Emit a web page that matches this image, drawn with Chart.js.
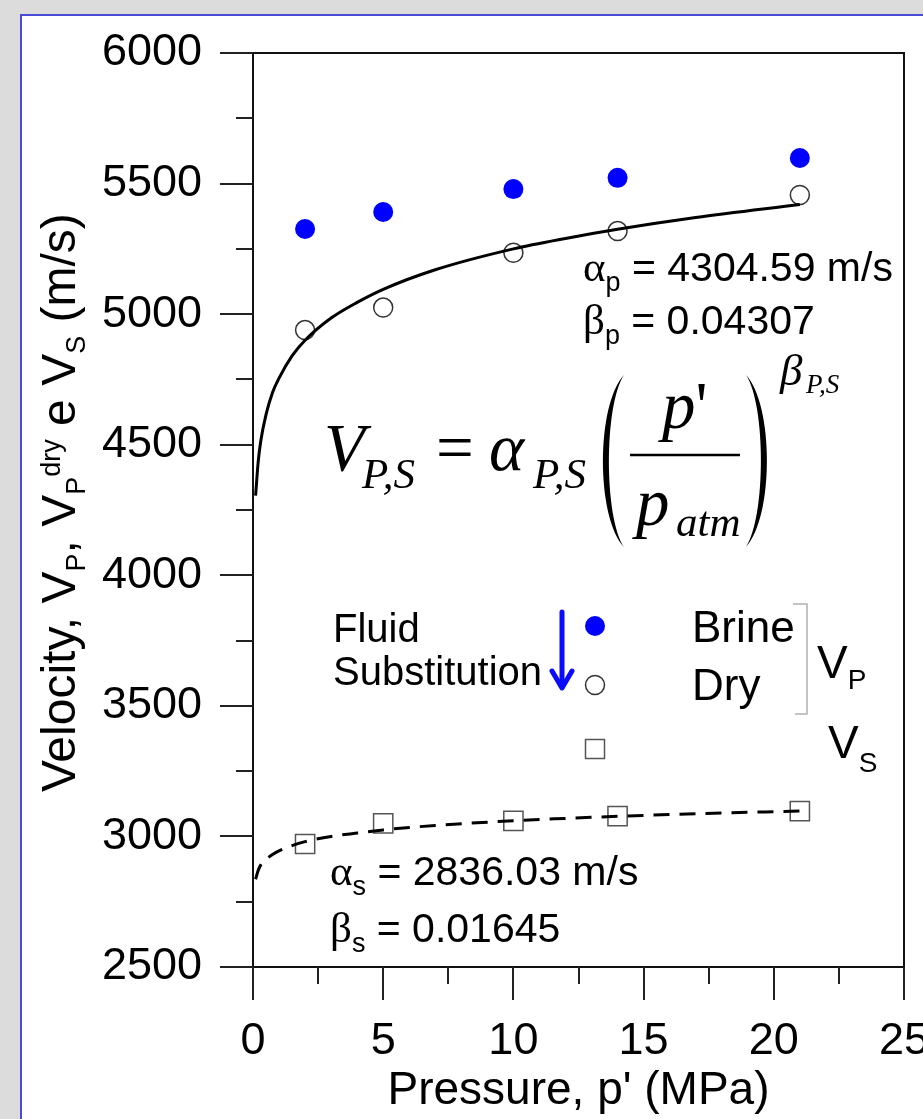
<!DOCTYPE html>
<html>
<head>
<meta charset="utf-8">
<title>Velocity vs pressure</title>
<script src="https://cdn.jsdelivr.net/npm/chart.js@4.4.1/dist/chart.umd.min.js"></script>
<style>
  html, body { margin: 0; padding: 0; overflow: hidden; background: #dcdcdc; }
  #panel { position: absolute; left: 20px; top: 14px; width: 1000px; height: 1200px; background: #fff; border: 2px solid #4b4bd6; }
  #wrap { position: absolute; left: 0; top: 0; width: 923px; height: 1119px; }
</style>
</head>
<body>
<div id="panel"></div>
<div id="wrap"><canvas id="myChart"></canvas></div>
<script>
// measured points (MPa, m/s)
const pressure = [2, 5, 10, 14, 21];
const vpBrine = [5326, 5391, 5479, 5522, 5598];
const vpDry = [4939, 5025, 5235, 5318, 5456];
const vsDry = [2971, 3050, 3060, 3078, 3097];

// fitted curves
const fitPressure = [0.1, 0.2, 0.3, 0.5, 0.75, 1, 1.5, 2, 3, 4, 5, 7, 10, 12, 14, 17, 21];
const vpFit = [4305, 4435, 4515, 4615, 4700, 4755, 4840, 4900, 4985, 5045, 5095, 5170, 5250, 5290, 5325, 5370, 5420];
const vsFit = [2836, 2870, 2891, 2912, 2931, 2945, 2965, 2980, 3000, 3013, 3025, 3042, 3060, 3069, 3077, 3087, 3097];

const xTicks = [0, 5, 10, 15, 20, 25];
const yTicks = [2500, 3000, 3500, 4000, 4500, 5000, 5500, 6000];

const SANS = "'Liberation Sans', Arial, sans-serif";
const SERIF = "'Liberation Serif', 'Times New Roman', serif";

Chart.defaults.font.family = SANS;
Chart.defaults.color = '#000';

function pts(xs, ys) {
  return xs.map((x, i) => ({x: x, y: ys[i]}));
}

// draw text pieces one after another (sub/superscripts)
function run(ctx, x, y, parts) {
  for (const p of parts) {
    ctx.font = p[1];
    ctx.fillText(p[0], x, y + (p[2] || 0));
    x += ctx.measureText(p[0]).width;
  }
  return x;
}

function seg(ctx, x1, y1, x2, y2) {
  ctx.beginPath();
  ctx.moveTo(x1, y1);
  ctx.lineTo(x2, y2);
  ctx.stroke();
}

const overlay = {
  id: 'overlay',
  afterDraw(chart) {
    const ctx = chart.ctx;
    const a = chart.chartArea;
    const xs = chart.scales.x, ys = chart.scales.y;
    ctx.save();

    // top and right frame
    ctx.strokeStyle = '#111';
    ctx.lineWidth = 2;
    ctx.beginPath();
    ctx.moveTo(a.left, a.top);
    ctx.lineTo(a.right, a.top);
    ctx.lineTo(a.right, a.bottom);
    ctx.stroke();

    // tick marks, long on labelled values
    ctx.strokeStyle = '#222';
    for (let v = ys.min; v <= ys.max; v += 250) {
      const py = Math.round(ys.getPixelForValue(v));
      const len = v % 500 === 0 ? 33 : 17;
      seg(ctx, a.left - len, py, a.left, py);
    }
    for (let v = xs.min; v <= xs.max; v += 2.5) {
      const px = Math.round(xs.getPixelForValue(v));
      const len = v % 5 === 0 ? 33 : 17;
      seg(ctx, px, a.bottom, px, a.bottom + len);
    }

    ctx.fillStyle = '#000';
    ctx.textBaseline = 'alphabetic';
    ctx.textAlign = 'left';

    // y axis title
    ctx.save();
    ctx.translate(75, 792);
    ctx.rotate(-Math.PI / 2);
    run(ctx, 0, 0, [
      ['Velocity, V', '48px ' + SANS],
      ['P', '27px ' + SANS, 10],
      [', V', '48px ' + SANS],
      ['P', '27px ' + SANS, 10],
      ['dry', '27px ' + SANS, -15],
      [' e V', '48px ' + SANS],
      ['S', '27px ' + SANS, 10],
      [' (m/s)', '48px ' + SANS]
    ]);
    ctx.restore();

    // fit parameters
    run(ctx, 583, 281, [['α', '43px ' + SERIF], ['p', '27px ' + SANS, 10], [' = 4304.59 m/s', '41px ' + SANS]]);
    run(ctx, 583, 334, [['β', '43px ' + SERIF], ['p', '27px ' + SANS, 10], [' = 0.04307', '41px ' + SANS]]);
    run(ctx, 330, 885, [['α', '43px ' + SERIF], ['s', '27px ' + SANS, 10], [' = 2836.03 m/s', '41px ' + SANS]]);
    run(ctx, 330, 942, [['β', '43px ' + SERIF], ['s', '27px ' + SANS, 10], [' = 0.01645', '41px ' + SANS]]);

    // equation
    const IT = 'italic 67px ' + SERIF, ITS = 'italic 43px ' + SERIF;
    run(ctx, 324, 470, [['V', IT]]);
    run(ctx, 362, 488, [['P,S', ITS]]);
    ctx.font = '67px ' + SERIF;
    ctx.fillText('=', 436, 470);
    run(ctx, 489, 470, [['α', IT]]);
    run(ctx, 533, 488, [['P,S', ITS]]);
    run(ctx, 662, 428, [['p', IT], ["'", '67px ' + SERIF]]);
    ctx.lineWidth = 2.5;
    ctx.strokeStyle = '#000';
    seg(ctx, 630, 455, 740, 455);
    run(ctx, 636, 525, [['p', IT]]);
    run(ctx, 676, 536, [['atm', ITS]]);
    run(ctx, 780, 385, [['β', 'italic 45px ' + SERIF]]);
    run(ctx, 806, 393, [['P,S', 'italic 27px ' + SERIF]]);
    // big parentheses
    ctx.beginPath();
    ctx.moveTo(624, 375);
    ctx.bezierCurveTo(596, 405, 596, 517, 624, 547);
    ctx.bezierCurveTo(604, 517, 604, 405, 624, 375);
    ctx.fill();
    ctx.beginPath();
    ctx.moveTo(746, 375);
    ctx.bezierCurveTo(774, 405, 774, 517, 746, 547);
    ctx.bezierCurveTo(766, 517, 766, 405, 746, 375);
    ctx.fill();

    // legend block
    run(ctx, 333, 642, [['Fluid', '40px ' + SANS]]);
    run(ctx, 333, 685, [['Substitution', '40px ' + SANS]]);
    ctx.strokeStyle = '#0a0aff';
    ctx.lineWidth = 5;
    ctx.lineCap = 'round';
    ctx.lineJoin = 'round';
    seg(ctx, 562, 612, 562, 687);
    ctx.beginPath();
    ctx.moveTo(552, 671);
    ctx.lineTo(562, 688);
    ctx.lineTo(572, 671);
    ctx.stroke();
    ctx.lineCap = 'butt';

    ctx.fillStyle = '#0000ff';
    ctx.beginPath();
    ctx.arc(595, 626, 10, 0, Math.PI * 2);
    ctx.fill();
    ctx.lineWidth = 1.5;
    ctx.strokeStyle = '#333';
    ctx.beginPath();
    ctx.arc(595, 685, 9.5, 0, Math.PI * 2);
    ctx.stroke();
    ctx.strokeStyle = '#555';
    ctx.strokeRect(585.5, 739.5, 19, 19);

    ctx.fillStyle = '#000';
    run(ctx, 692, 642, [['Brine', '44px ' + SANS]]);
    run(ctx, 692, 700, [['Dry', '44px ' + SANS]]);
    ctx.strokeStyle = '#b0b0b0';
    ctx.lineWidth = 1.5;
    ctx.beginPath();
    ctx.moveTo(793, 604);
    ctx.lineTo(807, 604);
    ctx.lineTo(807, 714);
    ctx.lineTo(795, 714);
    ctx.stroke();
    run(ctx, 817, 678, [['V', '46px ' + SANS], ['P', '28px ' + SANS, 11]]);
    run(ctx, 828, 758, [['V', '46px ' + SANS], ['S', '28px ' + SANS, 14]]);

    ctx.restore();
  }
};

const data = {
  datasets: [
    {
      label: 'Vp fit',
      data: pts(fitPressure, vpFit),
      showLine: true,
      borderColor: '#000',
      borderWidth: 3,
      pointRadius: 0,
      cubicInterpolationMode: 'monotone'
    },
    {
      label: 'Vs fit',
      data: pts(fitPressure, vsFit),
      showLine: true,
      borderColor: '#000',
      borderWidth: 3,
      borderDash: [16, 10],
      pointRadius: 0,
      cubicInterpolationMode: 'monotone'
    },
    {
      label: 'Brine',
      data: pts(pressure, vpBrine),
      pointStyle: 'circle',
      pointRadius: 10,
      backgroundColor: '#0000ff',
      borderWidth: 0
    },
    {
      label: 'Dry',
      data: pts(pressure, vpDry),
      pointStyle: 'circle',
      pointRadius: 9.5,
      backgroundColor: 'rgba(0,0,0,0)',
      borderColor: '#333',
      borderWidth: 1.5
    },
    {
      label: 'Vs',
      data: pts(pressure, vsDry),
      pointStyle: 'rect',
      pointRadius: 13.6,
      backgroundColor: 'rgba(0,0,0,0)',
      borderColor: '#555',
      borderWidth: 1.5
    }
  ]
};

const config = {
  type: 'scatter',
  data: data,
  options: {
    responsive: true,
    maintainAspectRatio: false,
    animation: false,
    devicePixelRatio: 1,
    layout: { padding: { top: 53, right: 19, left: 0, bottom: 0 } },
    plugins: { legend: { display: false }, tooltip: { enabled: false } },
    scales: {
      x: {
        type: 'linear',
        min: 0,
        max: 25,
        afterBuildTicks: s => { s.ticks = xTicks.map(v => ({value: v})); },
        ticks: { font: { size: 45 }, color: '#000', padding: 48, maxRotation: 0, autoSkip: false, callback: v => String(v) },
        grid: { display: false, drawTicks: false },
        border: { display: true, color: '#111', width: 2 },
        title: { display: true, text: "Pressure, p' (MPa)", font: { size: 46 }, color: '#000', padding: { top: 0, bottom: 0 } },
        afterFit: s => { s.height = 152; s.paddingLeft = 0; s.paddingRight = 0; }
      },
      y: {
        type: 'linear',
        min: 2500,
        max: 6000,
        afterBuildTicks: s => { s.ticks = yTicks.map(v => ({value: v})); },
        ticks: { font: { size: 45 }, color: '#000', padding: 51, callback: v => String(v) },
        grid: { display: false, drawTicks: false },
        border: { display: true, color: '#111', width: 2 },
        afterFit: s => { s.width = 253; s.paddingTop = 0; s.paddingBottom = 0; }
      }
    }
  },
  plugins: [overlay]
};

const myChart = new Chart(document.getElementById('myChart'), config);
</script>
</body>
</html>
